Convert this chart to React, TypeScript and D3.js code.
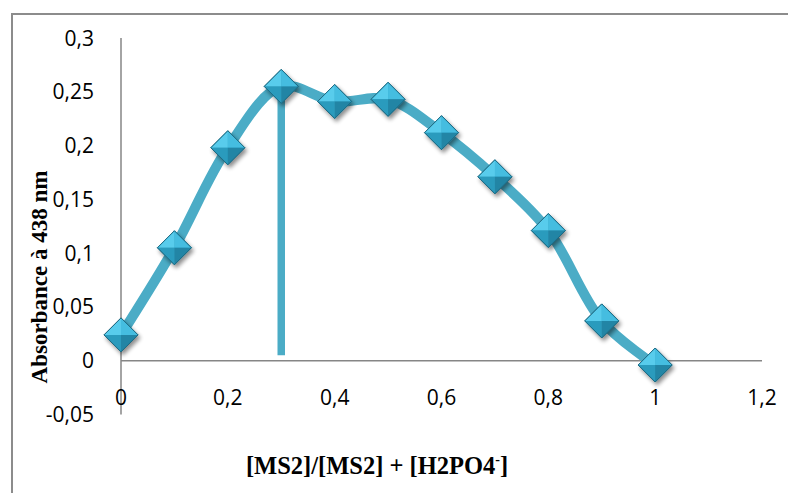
import React from "react";
import * as d3 from "d3";

const xValues = [0, 0.1, 0.2, 0.3, 0.4, 0.5, 0.6, 0.7, 0.8, 0.9, 1.0];
const yValues = [0.024, 0.105, 0.198, 0.255, 0.241, 0.243, 0.212, 0.171, 0.121, 0.037, -0.004];
const xTicks = [0, 0.2, 0.4, 0.6, 0.8, 1, 1.2];
const yTicks = [-0.05, 0, 0.05, 0.1, 0.15, 0.2, 0.25, 0.3];
const markerLineX = [0.3];
const markerLineY = [0.005, 0.252];

const fmt = (v: number) => String(+v.toFixed(2)).replace(".", ",");

export default function App() {
  const W = 788, H = 493;
  const x = d3.scaleLinear().domain([0, 1.2]).range([121, 762]);
  const y = d3.scaleLinear().domain([-0.05, 0.3]).range([414.5, 38]);
  const pts = xValues.map((v, i) => [v, yValues[i]] as [number, number]);
  const line = d3
    .line<[number, number]>()
    .x((d) => x(d[0]))
    .y((d) => y(d[1]))
    .curve(d3.curveCatmullRom.alpha(0.5));
  const color = "#4bacc6";
  const r = 17;
  const tickFont = "Open Sans, Liberation Sans, sans-serif";
  return (
    <svg width={W} height={H} style={{ position: "absolute", left: 0, top: 0 }}>
      <defs>
        <filter id="sh" x="-50%" y="-50%" width="200%" height="200%">
          <feGaussianBlur in="SourceAlpha" stdDeviation="2" />
          <feOffset dx="2" dy="3" result="o" />
          <feComponentTransfer>
            <feFuncA type="linear" slope="0.45" />
          </feComponentTransfer>
          <feMerge>
            <feMergeNode />
            <feMergeNode in="SourceGraphic" />
          </feMerge>
        </filter>
      </defs>
      <rect x={0} y={0} width={W} height={H} fill="#fff" />
      <rect x={12} y={14} width={800} height={500} fill="none" stroke="#8c8c8c" strokeWidth={2} />
      {/* axes */}
      <line x1={x(0)} x2={x(0)} y1={y(0.3)} y2={y(-0.05)} stroke="#868686" strokeWidth={1.5} />
      <line x1={x(0)} x2={x(1.2)} y1={y(0)} y2={y(0)} stroke="#868686" strokeWidth={1.5} />
      {yTicks.map((t) => (
        <text key={"y" + t} x={94} y={y(t)} dy="0.36em" textAnchor="end" fontFamily={tickFont} fontSize={21} fill="#000">
          {fmt(t)}
        </text>
      ))}
      {xTicks.map((t) => (
        <text key={"x" + t} x={x(t)} y={397} dy="0.36em" textAnchor="middle" fontFamily={tickFont} fontSize={21} fill="#000">
          {fmt(t)}
        </text>
      ))}
      {/* vertical marker line */}
      <line
        x1={x(markerLineX[0])}
        x2={x(markerLineX[0])}
        y1={y(markerLineY[0])}
        y2={y(markerLineY[1])}
        stroke={color}
        strokeWidth={7.5}
      />
      <path d={line(pts) || ""} fill="none" stroke={color} strokeWidth={10} strokeLinecap="round" strokeLinejoin="round" />
      {pts.map((p, i) => {
        const cx = x(p[0]), cy = y(p[1]);
        return (
          <g key={i} transform={`translate(${cx},${cy})`} filter="url(#sh)">
            <polygon points={`0,${-r} ${r},0 0,${r} ${-r},0`} fill="#2e9dbf" stroke="#1f6f88" strokeWidth={1} />
            <polygon points={`0,${-r} ${r},0 0,0`} fill="#45bde0" />
            <polygon points={`0,${-r} ${-r},0 0,0`} fill="#58ccec" />
            <polygon points={`${-r},0 0,${r} 0,0`} fill="#2c9bbd" />
            <polygon points={`${r},0 0,${r} 0,0`} fill="#2385a5" />
            <polygon points={`0,${-r} ${r},0 0,${r} ${-r},0`} fill="none" stroke="#1d6a82" strokeWidth={1} />
          </g>
        );
      })}
      <text
        transform={`translate(47,${277}) rotate(-90)`}
        textAnchor="middle"
        fontFamily="Liberation Serif, Times New Roman, serif"
        fontWeight="bold"
        fontSize={23}
        fill="#000"
      >
        Absorbance à 438 nm
      </text>
      <text
        x={377}
        y={474}
        textAnchor="middle"
        fontFamily="Liberation Serif, Times New Roman, serif"
        fontWeight="bold"
        fontSize={24.5}
        fill="#000"
      >
        [MS2]/[MS2] + [H2PO4<tspan fontSize={14} dy={-10}>-</tspan>
        <tspan dy={10}>]</tspan>
      </text>
    </svg>
  );
}
